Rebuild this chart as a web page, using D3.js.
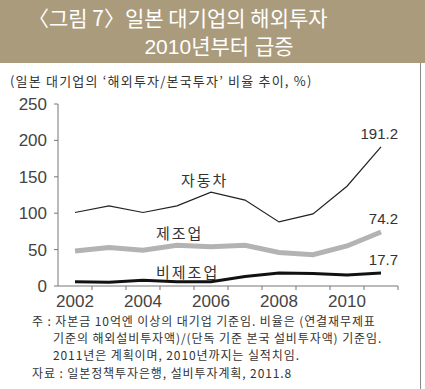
<!DOCTYPE html>
<html>
<head>
<meta charset="utf-8">
<script src="https://cdn.jsdelivr.net/npm/d3@7"></script>
<style>
  body { margin: 0; background: #fff; }
  svg text { font-family: "Liberation Sans", "Noto Sans CJK KR", sans-serif; }
  .kr { font-family: "Noto Sans CJK KR", sans-serif; }
</style>
</head>
<body>
<div id="chart"></div>
<script>
// 데이터
const years = [2002, 2003, 2004, 2005, 2006, 2007, 2008, 2009, 2010, 2011];
const auto = [101, 110, 101, 110, 129, 118, 88, 99, 137, 191.2];      // 자동차
const manuf = [48, 53, 49, 56, 54, 56, 46, 43, 55, 74.2];            // 제조업
const nonManuf = [6, 5, 8, 6, 6, 13, 18, 17, 15, 17.7];              // 비제조업
const yTicks = [0, 50, 100, 150, 200, 250];
const xLabels = [2002, 2004, 2006, 2008, 2010];

const W = 425, H = 389;
const svg = d3.select("#chart").append("svg")
    .attr("width", W).attr("height", H);

// 제목 띠
svg.append("rect").attr("x", 0).attr("y", 0).attr("width", W).attr("height", 63)
    .attr("fill", "#ab9b7d");
svg.append("text").attr("class", "kr").attr("x", 28).attr("y", 26)
    .attr("fill", "#fff").attr("font-size", 21)
    .text("〈그림 7〉일본 대기업의 해외투자");
svg.append("text").attr("x", 219).attr("y", 54)
    .attr("text-anchor", "middle").attr("fill", "#fff").attr("font-size", 21)
    .text("2010년부터 급증");

// 오른쪽 테두리
svg.append("line").attr("x1", 420.5).attr("x2", 420.5).attr("y1", 63).attr("y2", H)
    .attr("stroke", "#888").attr("stroke-width", 1);

svg.append("text").attr("class", "kr").attr("x", 10).attr("y", 86)
    .attr("fill", "#333").attr("font-size", 13).attr("letter-spacing", 1.2)
    .text("(일본 대기업의 ‘해외투자/본국투자’ 비율 추이, %)");

// 스케일
const x = d3.scaleBand().domain(years).range([58, 398]);
const y = d3.scaleLinear().domain([0, 250]).range([286, 104]);
const cx = d => x(d) + x.bandwidth() / 2;

// 축
svg.append("line").attr("x1", 58).attr("x2", 58).attr("y1", y(250)).attr("y2", y(0))
    .attr("stroke", "#777");
svg.append("line").attr("x1", 58).attr("x2", 398).attr("y1", y(0)).attr("y2", y(0))
    .attr("stroke", "#777");
svg.selectAll(".yt").data(yTicks).enter().append("line")
    .attr("x1", 54).attr("x2", 58).attr("y1", d => y(d)).attr("y2", d => y(d))
    .attr("stroke", "#777");
svg.selectAll(".yl").data(yTicks).enter().append("text")
    .attr("x", 47).attr("y", d => y(d) + 6)
    .attr("text-anchor", "end").attr("font-size", 17).attr("fill", "#444")
    .text(d => d);
svg.selectAll(".xt").data(years).enter().append("line")
    .attr("x1", d => x(d) + x.bandwidth()).attr("x2", d => x(d) + x.bandwidth())
    .attr("y1", y(0)).attr("y2", y(0) + 4)
    .attr("stroke", "#777");
svg.selectAll(".xl").data(xLabels).enter().append("text")
    .attr("x", d => cx(d)).attr("y", 307)
    .attr("text-anchor", "middle").attr("font-size", 17).attr("fill", "#444")
    .text(d => d);

// 선
const line = d3.line().x((d, i) => cx(years[i])).y(d => y(d)).curve(d3.curveLinear);
svg.append("path").attr("d", line(manuf)).attr("fill", "none")
    .attr("stroke", "#b3b3b3").attr("stroke-width", 5);
svg.append("path").attr("d", line(nonManuf)).attr("fill", "none")
    .attr("stroke", "#111").attr("stroke-width", 3);
svg.append("path").attr("d", line(auto)).attr("fill", "none")
    .attr("stroke", "#222").attr("stroke-width", 1.2);

// 라벨
const lbl = (t, xx, yy) => svg.append("text").attr("class", "kr")
    .attr("x", xx).attr("y", yy)
    .attr("font-size", 15).attr("fill", "#333").attr("letter-spacing", 2).text(t);
lbl("자동차", 181, 186);
lbl("제조업", 156, 239);
lbl("비제조업", 156, 278);
const val = v => svg.append("text").attr("x", 398).attr("y", y(v) - 8)
    .attr("text-anchor", "end").attr("font-size", 15).attr("fill", "#333")
    .text(v.toFixed(1));
val(auto[9]); val(manuf[9]); val(nonManuf[9]);

// 주석
const notes = [
  ["주 : 자본금 10억엔 이상의 대기업 기준임. 비율은 (연결재무제표", 32, 326],
  ["기준의 해외설비투자액)/(단독 기준 본국 설비투자액) 기준임.", 53, 343],
  ["2011년은 계획이며, 2010년까지는 실적치임.", 53, 360],
  ["자료 : 일본정책투자은행, 설비투자계획, 2011.8", 32, 378]
];
svg.selectAll(".note").data(notes).enter().append("text").attr("class", "kr")
    .attr("x", d => d[1]).attr("y", d => d[2])
    .attr("font-size", 12).attr("fill", "#333").attr("letter-spacing", 0.9)
    .text(d => d[0]);
</script>
</body>
</html>
